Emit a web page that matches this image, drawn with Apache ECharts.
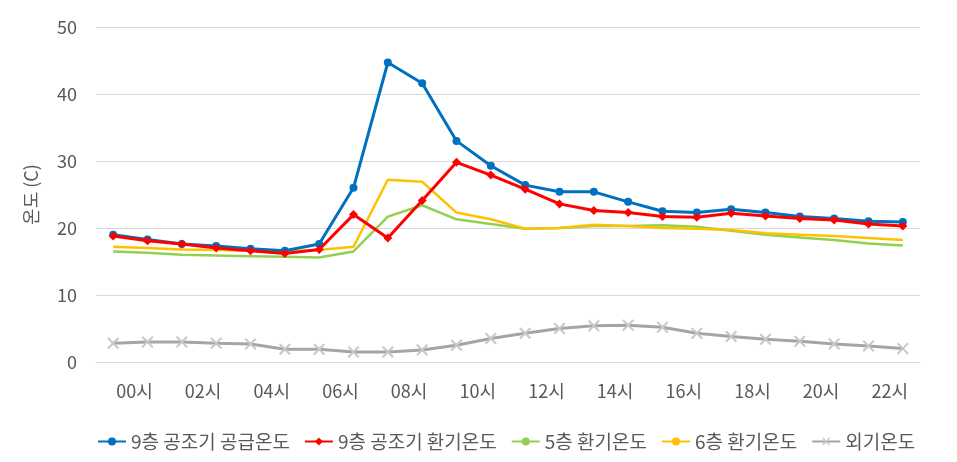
<!DOCTYPE html>
<html><head><meta charset="utf-8">
<script src="https://cdn.jsdelivr.net/npm/echarts@6/dist/echarts.min.js"></script>
<style>html,body{margin:0;padding:0;background:#fff}#c{width:957px;height:462px}</style>
</head><body><div id="c"></div>
<script>
const categories = ['00시','01시','02시','03시','04시','05시','06시','07시','08시','09시','10시','11시','12시','13시','14시','15시','16시','17시','18시','19시','20시','21시','22시','23시'];
const supply9 = [19.0,18.3,17.6,17.3,16.9,16.6,17.6,26.0,44.7,41.6,33.0,29.3,26.4,25.4,25.4,23.9,22.5,22.3,22.8,22.3,21.7,21.4,21.0,20.9];
const return9 = [18.8,18.1,17.6,17.0,16.6,16.2,16.8,22.0,18.5,24.1,29.8,27.9,25.8,23.6,22.6,22.3,21.7,21.6,22.2,21.8,21.4,21.2,20.6,20.3];
const return5 = [16.5,16.3,16.0,15.9,15.8,15.7,15.6,16.5,21.7,23.4,21.3,20.6,19.9,20.0,20.3,20.3,20.4,20.2,19.6,19.0,18.6,18.2,17.7,17.4];
const return6 = [17.2,17.0,16.8,16.7,16.6,16.5,16.7,17.2,27.2,26.9,22.3,21.3,19.9,20.0,20.5,20.3,20.0,19.9,19.7,19.2,19.0,18.8,18.5,18.2];
const outdoor = [2.8,3.0,3.0,2.8,2.7,1.9,1.9,1.5,1.5,1.8,2.5,3.5,4.3,5.0,5.4,5.5,5.2,4.3,3.8,3.4,3.1,2.7,2.4,2.0];
const seriesNames = ['9층 공조기 공급온도','9층 공조기 환기온도','5층 환기온도','6층 환기온도','외기온도'];
const yTicks = {min:0, max:50, interval:10};
const yTitle = '온도 (C)';

const font = '"Noto Sans CJK KR", "Noto Sans", sans-serif';
const xShape = 'path://M0,1.2 L1.2,0 L5,3.8 L8.8,0 L10,1.2 L6.2,5 L10,8.8 L8.8,10 L5,6.2 L1.2,10 L0,8.8 L3.8,5 Z';
const chart = echarts.init(document.getElementById('c'), null, {renderer:'canvas'});
chart.setOption({
  animation:false,
  textStyle:{fontFamily:font},
  grid:{left:96,right:37,top:27,bottom:100},
  legend:{
    top:427, left:92, itemWidth:28, itemHeight:10, itemGap:14,
    textStyle:{fontFamily:font,fontSize:19,color:'#595959'},
    data:seriesNames
  },
  xAxis:{
    type:'category', data:categories, boundaryGap:true,
    axisLine:{lineStyle:{color:'#d9d9d9',width:1}},
    axisTick:{show:false},
    axisLabel:{interval:1,color:'#595959',fontSize:18,fontFamily:font,margin:20,align:'left',padding:[0,0,0,3]}
  },
  yAxis:{
    type:'value', min:yTicks.min, max:yTicks.max, interval:yTicks.interval,
    name:yTitle, nameLocation:'middle', nameGap:56, nameRotate:90,
    nameTextStyle:{color:'#595959',fontSize:18,fontFamily:font},
    axisLine:{show:false}, axisTick:{show:false},
    axisLabel:{color:'#595959',fontSize:18,fontFamily:font,margin:19},
    splitLine:{lineStyle:{color:'#d9d9d9',width:1}}
  },
  series:[
    {name:seriesNames[0],type:'line',data:supply9,symbol:'circle',symbolSize:8,
     lineStyle:{color:'#0070C0',width:3},itemStyle:{color:'#0070C0'},z:5},
    {name:seriesNames[1],type:'line',data:return9,symbol:'diamond',symbolSize:9,
     lineStyle:{color:'#FF0000',width:3},itemStyle:{color:'#FF0000'},z:6},
    {name:seriesNames[2],type:'line',data:return5,symbol:'none',showSymbol:false,
     lineStyle:{color:'#92D050',width:2.5},itemStyle:{color:'#92D050'},z:3},
    {name:seriesNames[3],type:'line',data:return6,symbol:'none',showSymbol:false,
     lineStyle:{color:'#FFC000',width:2.5},itemStyle:{color:'#FFC000'},z:4},
    {name:seriesNames[4],type:'line',data:outdoor,symbol:xShape,symbolSize:12,
     lineStyle:{color:'#A5A5A5',width:3},itemStyle:{color:'#C8C8C8'},z:2}
  ]
});
</script></body></html>
